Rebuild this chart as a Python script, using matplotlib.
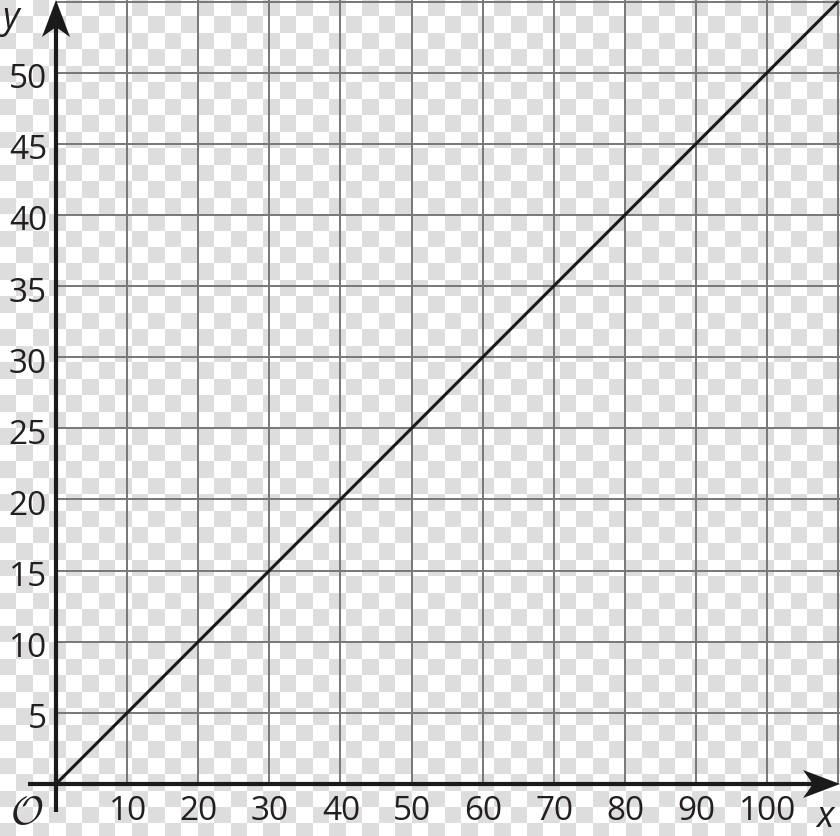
import numpy as np
import matplotlib
matplotlib.use("Agg")
import matplotlib.pyplot as plt
from matplotlib.patches import Polygon
from matplotlib import transforms

plt.rcParams['mathtext.fontset'] = 'cm'

# ---- data ----
x_ticks = [10, 20, 30, 40, 50, 60, 70, 80, 90, 100]
y_ticks = [5, 10, 15, 20, 25, 30, 35, 40, 45, 50]
x_grid = [10, 20, 30, 40, 50, 60, 70, 80, 90, 100, 110]
y_grid = [5, 10, 15, 20, 25, 30, 35, 40, 45, 50, 55]
line_x = [0, 110]
line_y = [0, 55]

W, H = 840, 836
fig = plt.figure(figsize=(W / 100, H / 100), dpi=100)

# checkerboard background (transparency pattern)
bg = fig.add_axes([0, 0, 1, 1], zorder=0)
n = 51
cell = W / n
ii, jj = np.indices((n, n))
mask = (ii + jj) % 2 == 0
img = np.ones((n, n, 3))
img[mask] = np.array([221, 221, 221]) / 255
bg.imshow(img, extent=(0, n * cell, n * cell, 0), interpolation='nearest', aspect='auto')
bg.set_xlim(0, W)
bg.set_ylim(H, 0)
bg.axis('off')

ax = fig.add_axes([0, 0, 1, 1], zorder=1)
ax.patch.set_alpha(0)
sx = 7.11     # px per x unit
sy = 14.226   # px per y unit
x0_px, y0_px = 56, 784
xmin, xmax = -x0_px / sx, (W - x0_px) / sx
ymin, ymax = -(H - y0_px) / sy, y0_px / sy
ax.set_xlim(xmin, xmax)
ax.set_ylim(ymin, ymax)
ax.axis('off')

grid_col = '#777777'
for gx in x_grid:
    ax.plot([gx, gx], [0, ymax], color=grid_col, lw=1.4, zorder=1, solid_capstyle='butt')
for gy in y_grid:
    ax.plot([0, xmax], [gy, gy], color=grid_col, lw=1.4, zorder=1, solid_capstyle='butt')

# main line
ax.plot(line_x, line_y, color='#1a1a1a', lw=2.2, zorder=3, solid_capstyle='butt')

# axes
ax.plot([-28 / sx, xmax - 20 / sx], [0, 0], color='#1a1a1a', lw=3.0, zorder=4, solid_capstyle='butt')
ax.plot([0, 0], [-28 / sy, ymax - 20 / sy], color='#1a1a1a', lw=3.0, zorder=4, solid_capstyle='butt')

# arrow heads (pixel-sized shapes anchored at axis ends)
L, Wd, N = 0.37, 0.14, 0.27
xarrow = np.array([[0, 0], [-L, Wd], [-N, 0], [-L, -Wd]])
yarrow = np.array([[0, 0], [Wd, -L], [0, -N], [-Wd, -L]])
tx = fig.dpi_scale_trans + transforms.ScaledTranslation(xmax, 0, ax.transData)
ty = fig.dpi_scale_trans + transforms.ScaledTranslation(0, ymax, ax.transData)
ax.add_patch(Polygon(xarrow, closed=True, transform=tx, color='#1a1a1a', zorder=5, lw=0))
ax.add_patch(Polygon(yarrow, closed=True, transform=ty, color='#1a1a1a', zorder=5, lw=0))

font = 'Open Sans'
pt = 0.72  # px -> pt at 100 dpi
for v in x_ticks:
    ax.annotate(str(v), xy=(v, 0), xytext=(0.5 * pt, -36 * pt), textcoords='offset points',
                ha='center', va='baseline', fontsize=24, family=font, color='#231f20')
for v in y_ticks:
    ax.annotate(str(v), xy=(0, v), xytext=(-9 * pt, -15.5 * pt), textcoords='offset points',
                ha='right', va='baseline', fontsize=24, family=font, color='#231f20')

fig.text(2 / W, 1 - 28 / H, 'y', ha='left', va='baseline', fontsize=26,
         family=font, style='italic', color='#231f20')
fig.text(816 / W, 1 - 827 / H, 'x', ha='left', va='baseline', fontsize=26,
         family=font, style='italic', color='#231f20')
fig.text(27 / W, 1 - 813 / H, r'$\mathcal{O}$', ha='center', va='center', fontsize=29,
         color='#231f20')

fig.savefig('out.png', dpi=100)
